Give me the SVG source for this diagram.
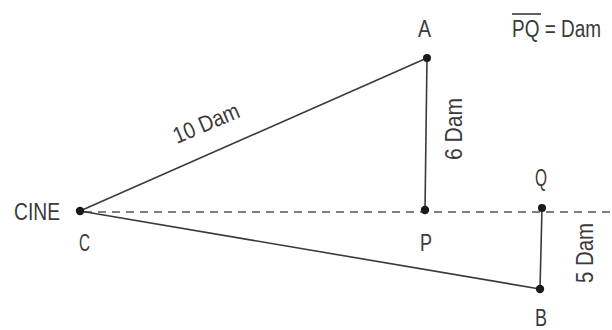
<svg xmlns="http://www.w3.org/2000/svg" width="612" height="330" viewBox="0 0 612 330">
<style>
.t{font-family:"Liberation Sans",Arial,sans-serif;font-size:23px;fill:#3a3a3a}
.ln{stroke:#3a3a3a;stroke-width:1.6;fill:none}
.ds{stroke:#555;stroke-width:1.5;stroke-dasharray:8 6;fill:none}
.dot{fill:#1a1a1a}
</style>
<rect width="612" height="330" fill="#fff"/>
<g id="connectors">
<line class="ds" x1="84" y1="212" x2="612" y2="212"/>
<line class="ln" x1="80" y1="211" x2="427" y2="58"/>
<line class="ln" x1="80" y1="211" x2="540" y2="289"/>
<line class="ln" x1="427" y1="58" x2="425" y2="210"/>
<line class="ln" x1="542" y1="208" x2="540" y2="289"/>
</g>
<g id="node-C"><circle class="dot" cx="80" cy="211" r="4.2"/><text class="t" x="14" y="220" textLength="46" lengthAdjust="spacingAndGlyphs">CINE</text><text class="t" x="79" y="251" textLength="11" lengthAdjust="spacingAndGlyphs">C</text></g>
<g id="node-A"><circle class="dot" cx="427" cy="58" r="4"/><text class="t" x="418" y="37" textLength="13" lengthAdjust="spacingAndGlyphs">A</text></g>
<g id="node-P"><circle class="dot" cx="425" cy="210" r="4.2"/><text class="t" x="420" y="251" textLength="12" lengthAdjust="spacingAndGlyphs">P</text></g>
<g id="node-Q"><circle class="dot" cx="542" cy="208" r="4"/><text class="t" x="535" y="186" textLength="12" lengthAdjust="spacingAndGlyphs">Q</text></g>
<g id="node-B"><circle class="dot" cx="540" cy="289" r="4.2"/><text class="t" x="535" y="326" textLength="12" lengthAdjust="spacingAndGlyphs">B</text></g>
<g id="labels">
<text class="t" transform="translate(206,123) rotate(-23)" x="-35" y="8" textLength="70" lengthAdjust="spacingAndGlyphs">10 Dam</text>
<text class="t" transform="translate(462,129) rotate(-90)" x="-31" y="0" textLength="62" lengthAdjust="spacingAndGlyphs">6 Dam</text>
<text class="t" transform="translate(593,253) rotate(-90)" x="-30" y="0" textLength="60" lengthAdjust="spacingAndGlyphs">5 Dam</text>
<text class="t" x="512" y="37" textLength="89" lengthAdjust="spacingAndGlyphs">PQ = Dam</text>
<line class="ln" x1="512" y1="14" x2="541" y2="14" stroke-width="1.3"/>
</g>
</svg>
